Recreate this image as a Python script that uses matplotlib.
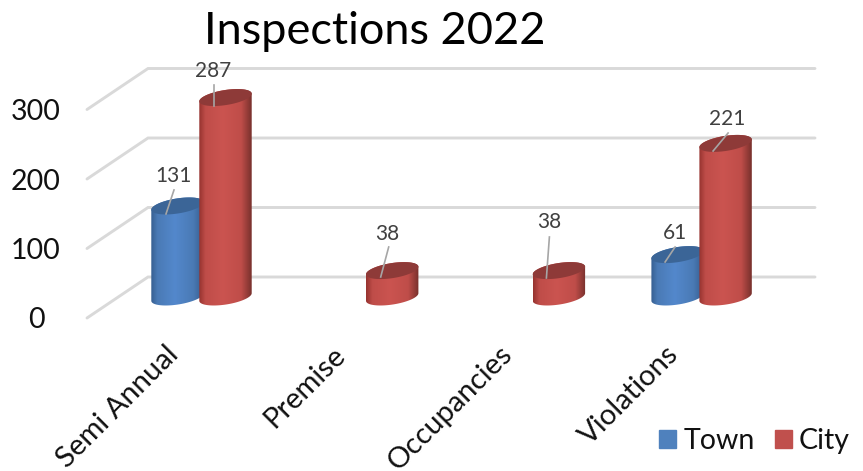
import numpy as np
import matplotlib
matplotlib.use("Agg")
import matplotlib.pyplot as plt
from matplotlib.patches import Patch, Polygon
from matplotlib.colors import LinearSegmentedColormap

categories = ["Semi Annual", "Premise", "Occupancies", "Violations"]
town = [131, None, None, 61]
city = [287, 38, 38, 221]
y_ticks = [0, 100, 200, 300]
title = "Inspections 2022"

W, H = 863, 471
plt.rcParams["font.family"] = ["Lato", "DejaVu Sans"]
fig = plt.figure(figsize=(W / 100, H / 100), dpi=100)
ax = fig.add_axes([0, 0, 1, 1])
ax.axis("off")

# scales: px per unit
PX_Y = 0.695
PX_X = 166.7
X0_PX, Y0_PX = 201.5, 297
ax.set_xlim(-X0_PX / PX_X, (W - X0_PX) / PX_X)
ax.set_ylim(-(H - Y0_PX) / PX_Y, Y0_PX / PX_Y)
px_x = lambda p: (p - X0_PX) / PX_X
dv = lambda p: p / PX_Y

# walls and gridlines
back_shift, front_shift = dv(20), dv(-21)
xl, xb, xr = px_x(87), px_x(148), px_x(815)
for v in y_ticks:
    ax.plot([xl, xb, xr], [v + front_shift, v + back_shift, v + back_shift],
            color="#d9d9d9", lw=2.1, zorder=1, solid_joinstyle="miter", solid_capstyle="round")
    ax.text(px_x(36), v + front_shift - dv(2.5), str(v), ha="center", va="center",
            fontsize=20.5, color="#111111")

# cylinders
A, B, TILT = 26.5, 7.5, np.deg2rad(9)
t = np.linspace(0, 2 * np.pi, 241)[:-1]
ex = A * np.cos(t) * np.cos(TILT) - B * np.sin(t) * np.sin(TILT)
ey = A * np.cos(t) * np.sin(TILT) + B * np.sin(t) * np.cos(TILT)
ir, il = int(np.argmax(ex)), int(np.argmin(ex))


def cylinder(xc, value, side, mid, cap, z):
    ids_up = [(ir + k) % 240 for k in range((il - ir) % 240 + 1)]
    ids_dn = [(il + k) % 240 for k in range((ir - il) % 240 + 1)]
    top = np.c_[xc + ex[ids_up] / PX_X, value + dv(ey[ids_up])]
    bot = np.c_[xc + ex[ids_dn] / PX_X, dv(ey[ids_dn])]
    body = Polygon(np.r_[top, bot], closed=True, fc="none", ec="none", transform=ax.transData)
    ax.add_patch(body)
    cmap = LinearSegmentedColormap.from_list("c", [(0, side[0]), (0.12, side[1]), (0.45, mid),
                                                    (0.8, side[1]), (1, side[2])])
    hw = ex.max() / PX_X
    im = ax.imshow(np.linspace(0, 1, 128)[None, :], cmap=cmap, aspect="auto", zorder=z,
                   extent=[xc - hw, xc + hw, dv(-20), value + dv(20)])
    im.set_clip_path(body)
    ax.fill(xc + ex / PX_X, value + dv(ey), color=cap, zorder=z + 0.1, lw=0)


BLUE = (("#365f91", "#4a7ab5", "#345b8c"), "#5388cc", "#3b6597")
RED = (("#96332f", "#bf4d49", "#77302c"), "#cb5450", "#8e3a38")
OFF = 24 / PX_X
z = 2
for i in range(len(categories)):
    if town[i] is not None:
        cylinder(i - OFF, town[i], BLUE[0], BLUE[1], BLUE[2], z)
    z += 1
    cylinder(i + OFF, city[i], RED[0], RED[1], RED[2], z)
    z += 1

# data-label placement in pixels from bar top: label centre, leader start, leader end
label_offsets = {
    ("t", 0): ((-4.5, 30), (-11.5, -8), (-3.5, 16)),
    ("c", 0): ((-12.5, 27), (-11.5, -8.5), (-11.5, 12.5)),
    ("c", 1): ((-4.5, 37), (-11.5, -6.4), (-3.5, 23.6)),
    ("c", 2): ((-9.5, 49), (-12.5, -7.4), (-9.5, 33.6)),
    ("t", 3): ((-2.5, 22), (-12.5, -7.4), (-2.5, 7.6)),
    ("c", 3): ((1.5, 24.5), (-12.5, -7.6), (2.5, 10.4)),
}
PT = 72 / 100
for key, vals, off in (("t", town, -OFF), ("c", city, OFF)):
    for i, v in enumerate(vals):
        if v is None:
            continue
        lab, s, e = label_offsets[(key, i)]
        xy = (i + off, v)
        ax.annotate(str(v), xy=xy, xycoords="data",
                    xytext=(lab[0] * PT, lab[1] * PT), textcoords="offset points",
                    ha="center", va="center", fontsize=15, color="#404040", zorder=40)
        ax.plot([xy[0] + s[0] / PX_X, xy[0] + e[0] / PX_X], [v + dv(s[1]), v + dv(e[1])],
                color="#a6a6a6", lw=1.2, zorder=39)

# category labels
for i, c in enumerate(categories):
    ax.annotate(c, xy=(i, 0), xycoords="data", xytext=(-19.3, -38.5), textcoords="offset points",
                rotation=45, rotation_mode="anchor", ha="right", va="center",
                fontsize=21, color="#111111", annotation_clip=False)

ax.text(374.5 / W, 1 - 31 / H, title, transform=ax.transAxes, ha="center", va="center",
        fontsize=32.5, color="#000000")

handles = [Patch(color="#4f81bd", label="Town"), Patch(color="#c0504d", label="City")]
ax.legend(handles=handles, ncol=2, frameon=False, fontsize=20.5, labelcolor="#111111",
          loc="center right", bbox_to_anchor=(850 / W, 1 - 441 / H), bbox_transform=fig.transFigure,
          handlelength=0.62, handleheight=0.62, handletextpad=0.24, columnspacing=0.7, borderpad=0, borderaxespad=0)

fig.savefig("out.png", dpi=100)
